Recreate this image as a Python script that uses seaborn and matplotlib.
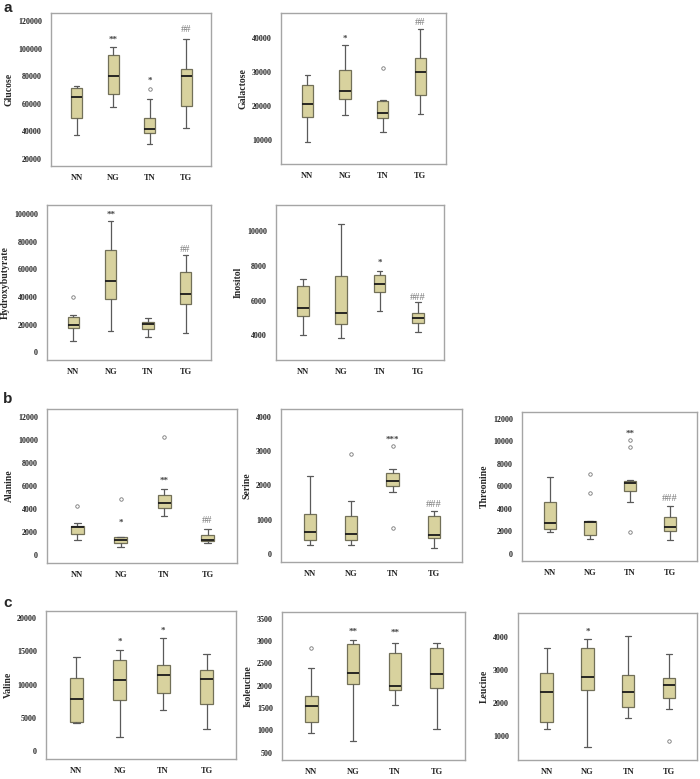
import numpy as np
import pandas as pd
import seaborn as sns
import matplotlib.pyplot as plt

groups = ['NN', 'NG', 'TN', 'TG']

# box stats: [whisker low, Q1, median, Q3, whisker high]
glucose = [[37200, 49800, 65000, 71000, 72500], [57500, 67000, 80000, 95500, 101100],
           [30700, 38600, 41800, 49300, 63600], [42500, 58500, 80000, 85100, 106900]]
glucose_out = [[], [], [70400], []]
glucose_sig = ['', '**', '*', '##']
glucose_sig_y = [0, 107000, 77600, 113700]

galactose = [[9200, 16800, 20400, 26100, 29000], [17400, 22000, 24300, 30600, 37800],
             [12200, 16400, 17900, 21400, 21800], [17500, 23100, 29900, 33900, 42500]]
galactose_out = [[], [], [31200], []]
galactose_sig = ['', '*', '', '##']
galactose_sig_y = [0, 40000, 0, 44400]

hydroxybutyrate = [[7900, 17600, 19800, 25500, 27200], [15700, 38800, 51300, 74000, 94700],
                   [11100, 16900, 20200, 21900, 24600], [13700, 34700, 42200, 58300, 70100]]
hydroxybutyrate_out = [[39800], [], [], []]
hydroxybutyrate_sig = ['', '**', '', '##']
hydroxybutyrate_sig_y = [0, 100000, 0, 74500]

inositol = [[4040, 5100, 5600, 6850, 7250], [3830, 4670, 5310, 7400, 10400],
            [5400, 6500, 6960, 7500, 7730], [4210, 4730, 5020, 5310, 5920]]
inositol_out = [[], [], [], []]
inositol_sig = ['', '', '*', '###']
inositol_sig_y = [0, 0, 8230, 6210]

alanine = [[1330, 1790, 2400, 2540, 2800], [720, 1040, 1330, 1550, 1580],
           [3370, 4100, 4550, 5190, 5740], [1040, 1210, 1330, 1730, 2220]]
alanine_out = [[4270], [4820], [10210], []]
alanine_sig = ['', '*', '**', '##']
alanine_sig_y = [0, 2880, 6520, 3000]

serine = [[273, 400, 644, 1180, 2263], [254, 400, 595, 1100, 1560],
          [1805, 2000, 2127, 2370, 2468], [185, 478, 556, 1100, 1268]]
serine_out = [[], [2907], [761, 3141], []]
serine_sig = ['', '', '***', '###']
serine_sig_y = [0, 0, 3356, 1454]

threonine = [[1950, 2190, 2700, 4570, 6800], [1310, 1630, 2790, 2880, 2940],
             [4600, 5550, 6260, 6470, 6530], [1210, 2040, 2340, 3260, 4210]]
threonine_out = [[], [5370, 7100], [1960, 9470, 10100], []]
threonine_sig = ['', '', '**', '###']
threonine_sig_y = [0, 0, 10750, 4880]

valine = [[4250, 4450, 7920, 10950, 14180], [2200, 7770, 10760, 13740, 15260],
          [6160, 8700, 11400, 13010, 17020], [3330, 7040, 10800, 12220, 14620]]
valine_out = [[], [], [], []]
valine_sig = ['', '*', '*', '']
valine_sig_y = [0, 16530, 18190, 0]

isoleucine = [[953, 1200, 1542, 1768, 2401], [762, 2037, 2277, 2925, 3012],
              [1565, 1898, 1993, 2722, 2955], [1040, 1943, 2263, 2831, 2955]]
isoleucine_out = [[2845], [], [], []]
isoleucine_sig = ['', '**', '**', '']
isoleucine_sig_y = [0, 3231, 3195, 0]

leucine = [[1218, 1426, 2347, 2911, 3673], [693, 2406, 2802, 3663, 3940],
           [1554, 1881, 2356, 2861, 4040], [1842, 2149, 2554, 2772, 3505]]
leucine_out = [[], [], [], [871]]
leucine_sig = ['', '*', '', '']
leucine_sig_y = [0, 4188, 0, 0]


def expand(stats, outliers):
    # 13 points so that np.percentile lands exactly on Q1 / median / Q3
    lo, q1, med, q3, hi = stats
    low = sorted(v for v in outliers if v < q1)
    high = sorted(v for v in outliers if v > q3)
    return (low + [lo] * (3 - len(low)) + [q1, q1, med, med, med, q3, q3]
            + [hi] * (3 - len(high)) + high)


def make_df(stats, outs):
    rows = []
    for g, s, o in zip(groups, stats, outs):
        rows += [(g, v) for v in expand(s, o)]
    return pd.DataFrame(rows, columns=['group', 'value'])


sns.set_style('white')
plt.rcParams['font.family'] = ['Liberation Serif', 'DejaVu Serif']

box_color = '#d8d29e'

# name, stats, outliers, sig labels, sig heights, yticks, ylim, axes box in px (l, t, r, b)
panels = [
    ('Glucose', glucose, glucose_out, glucose_sig, glucose_sig_y,
     np.arange(20000, 120001, 20000), (14700, 125800), (51, 13, 211, 166)),
    ('Galactose', galactose, galactose_out, galactose_sig, galactose_sig_y,
     np.arange(10000, 40001, 10000), (2860, 47230), (281, 13, 446, 164)),
    ('Hydroxybutyrate', hydroxybutyrate, hydroxybutyrate_out, hydroxybutyrate_sig, hydroxybutyrate_sig_y,
     np.arange(0, 100001, 20000), (-5540, 106500), (47, 205, 211, 360)),
    ('Inositol', inositol, inositol_out, inositol_sig, inositol_sig_y,
     np.arange(4000, 10001, 2000), (2577, 11520), (276, 205, 444, 360)),
    ('Alanine', alanine, alanine_out, alanine_sig, alanine_sig_y,
     np.arange(0, 12001, 2000), (-690, 12660), (47, 409, 237, 563)),
    ('Serine', serine, serine_out, serine_sig, serine_sig_y,
     np.arange(0, 4001, 1000), (-234, 4234), (281, 409, 462, 562)),
    ('Threonine', threonine, threonine_out, threonine_sig, threonine_sig_y,
     np.arange(0, 12001, 2000), (-654, 12624), (522, 412, 697, 561)),
    ('Valine', valine, valine_out, valine_sig, valine_sig_y,
     np.arange(0, 20001, 5000), (-1174, 21076), (46, 611, 236, 759)),
    ('Isoleucine', isoleucine, isoleucine_out, isoleucine_sig, isoleucine_sig_y,
     np.arange(500, 3501, 500), (340, 3646), (282, 612, 465, 760)),
    ('Leucine', leucine, leucine_out, leucine_sig, leucine_sig_y,
     np.arange(1000, 4001, 1000), (287, 4733), (518, 613, 697, 760)),
]

W, H = 700, 779
fig = plt.figure(figsize=(W / 100, H / 100), dpi=100)

for name, stats, outs, sig, sig_y, yticks, ylim, (l, t, r, b) in panels:
    ax = fig.add_axes([l / W, 1 - b / H, (r - l) / W, (b - t) / H])
    df = make_df(stats, outs)
    sns.boxplot(data=df, x='group', y='value', order=groups, ax=ax,
                color=box_color, saturation=1, width=0.3, linewidth=0.9,
                linecolor='#727058', fliersize=2.5,
                medianprops=dict(color='#1a1a1a', linewidth=1.3),
                whiskerprops=dict(color='#5a5a5a', linewidth=0.9),
                capprops=dict(color='#5a5a5a', linewidth=0.9),
                flierprops=dict(marker='o', markerfacecolor='none',
                                markeredgecolor='#777777', markeredgewidth=0.6))
    for i, (s, y) in enumerate(zip(sig, sig_y)):
        if not s:
            continue
        if '*' in s:
            ax.text(i, y, s, ha='center', va='center_baseline', fontsize=6.5,
                    color='#444444', fontweight='bold')
        else:
            ax.text(i, y, s, ha='center', va='center', fontsize=7.5,
                    color='#7a7a7a')
    ax.set_xlim(-0.7, 3.68)
    ax.set_ylim(*ylim)
    ax.set_yticks(yticks)
    ax.set_yticklabels([str(v) for v in yticks], fontsize=5.8, fontweight='bold', color='#222222')
    ax.set_xticks(range(4))
    ax.set_xticklabels(groups, fontsize=6, fontweight='bold', color='#222222')
    ax.set_xlabel('')
    ax.set_ylabel(name, fontsize=7, fontweight='bold', labelpad=3)
    ax.tick_params(axis='y', length=3, width=0.8, color='#777777', pad=3.5)
    ax.tick_params(axis='x', length=3, width=0.8, color='#777777', pad=3)
    for sp in ax.spines.values():
        sp.set_visible(True)
        sp.set_color('#a5a5a5')
        sp.set_linewidth(1.0)

for letter, y in [('a', 8), ('b', 399), ('c', 603)]:
    fig.text(3 / W, 1 - y / H, letter, fontsize=11, fontweight='bold',
             family=['Liberation Sans', 'DejaVu Sans'], va='center', ha='left')

fig.savefig('out.png', dpi=100)
